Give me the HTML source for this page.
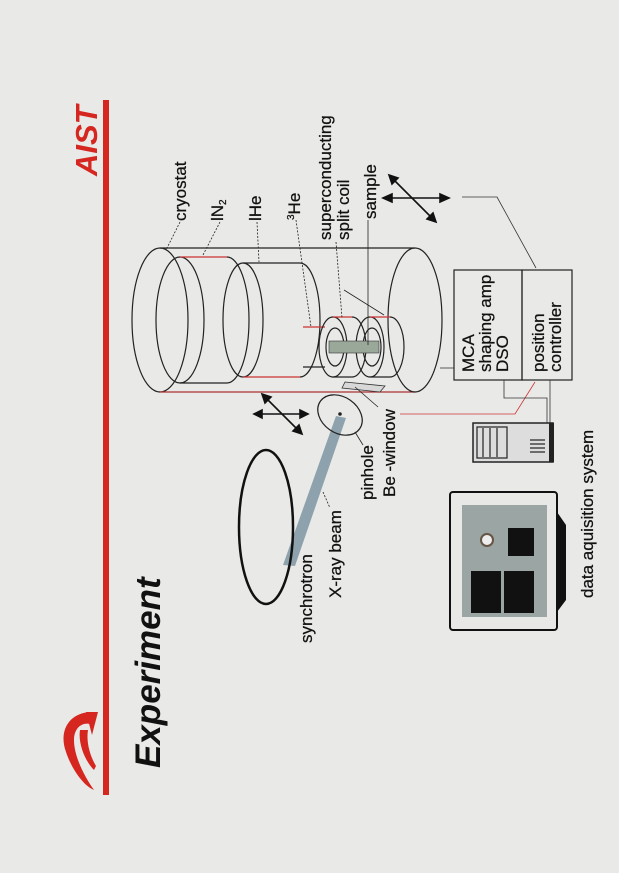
<!DOCTYPE html>
<html><head><meta charset="utf-8"><style>
html,body{margin:0;padding:0;background:#e9eae8;}
svg{display:block;}
text{font-family:"Liberation Sans",Arial,sans-serif;fill:#111;}
</style></head><body>
<svg width="619" height="873" viewBox="0 0 619 873" xmlns="http://www.w3.org/2000/svg">
<rect width="619" height="873" fill="#e9eae8"/>
<rect x="103" y="100" width="6" height="695" fill="#d62620"/>
<text transform="translate(97,176) rotate(-90)" font-size="31" font-weight="bold" font-style="italic" style="fill:#d62620">AIST</text>
<path d="M92,712 C70,712 58,730 66,752 C72,770 84,786 94,790 C84,776 74,756 74,740 C74,728 82,722 90,724 Z" fill="#d62620"/>
<path d="M80,730 C78,742 84,760 94,770 L96,766 C90,756 86,742 88,730 Z" fill="#d62620"/>
<path d="M86,712 L98,712 L92,735 Z" fill="#d62620"/>
<text transform="translate(160,768) rotate(-90)" font-size="35" font-weight="bold" font-style="italic">Experiment</text>

<g fill="none" stroke="#222" stroke-width="1.2">
<ellipse cx="160" cy="320" rx="28" ry="72"/>
<line x1="160" y1="248" x2="415" y2="248"/>
<line x1="160" y1="392" x2="415" y2="392" stroke="#a33"/>
<ellipse cx="415" cy="320" rx="27" ry="72"/>
<ellipse cx="180" cy="320" rx="24" ry="63"/>
<line x1="180" y1="257" x2="227" y2="257" stroke="#c33"/>
<line x1="180" y1="383" x2="227" y2="383"/>
<path d="M227,257 A22,63 0 0 1 227,383"/>
<ellipse cx="243" cy="320" rx="20" ry="57"/>
<line x1="243" y1="263" x2="300" y2="263"/>
<line x1="243" y1="377" x2="300" y2="377" stroke="#c33"/>
<path d="M300,263 A20,57 0 0 1 300,377"/>
<line x1="303" y1="327" x2="325" y2="327" stroke="#c33"/>
<line x1="303" y1="367" x2="325" y2="367"/>
<ellipse cx="333" cy="347" rx="14" ry="30"/>
<ellipse cx="335" cy="347" rx="9" ry="19"/>
<line x1="333" y1="317" x2="352" y2="317" stroke="#c33"/>
<line x1="333" y1="377" x2="352" y2="377"/>
<path d="M352,317 A14,30 0 0 1 352,377"/>
<ellipse cx="370" cy="347" rx="14" ry="30"/>
<ellipse cx="372" cy="347" rx="9" ry="19"/>
<line x1="370" y1="317" x2="390" y2="317" stroke="#c33"/>
<line x1="370" y1="377" x2="390" y2="377"/>
<path d="M390,317 A14,30 0 0 1 390,377"/>
</g>
<rect x="329" y="341" width="50" height="12" fill="#9aa89a" stroke="#333" stroke-width="0.6"/>
<polygon points="345,382 385,386 380,392 342,388" fill="#d8d8d8" stroke="#333" stroke-width="0.8"/>

<g stroke="#222" stroke-width="0.8" fill="none" stroke-dasharray="2,1.5">
<line x1="180" y1="222" x2="166" y2="250"/>
<line x1="220" y1="222" x2="203" y2="255"/>
<line x1="257" y1="222" x2="259" y2="262"/>
<line x1="296" y1="220" x2="311" y2="327"/>
<line x1="336" y1="242" x2="342" y2="318"/>
<line x1="344" y1="290" x2="384" y2="315" stroke-dasharray="none"/>
<line x1="368" y1="220" x2="368" y2="345" stroke-dasharray="none"/>
<line x1="355" y1="387" x2="378" y2="407" stroke-dasharray="none"/>
<line x1="355" y1="432" x2="363" y2="445" stroke-dasharray="none"/>
<line x1="323" y1="492" x2="330" y2="508"/>
</g>

<g stroke="#111" stroke-width="1.6" fill="#111">
<line x1="388" y1="198" x2="444" y2="198"/>
<polygon points="383,198 392,194 392,202"/><polygon points="449,198 440,194 440,202"/>
<line x1="393" y1="179" x2="432" y2="218"/>
<polygon points="389,175 398,178 392,184"/><polygon points="436,222 427,219 433,213"/>
<line x1="258" y1="414" x2="304" y2="414"/>
<polygon points="254,414 262,410 262,418"/><polygon points="308,414 300,410 300,418"/>
<line x1="266" y1="398" x2="298" y2="430"/>
<polygon points="262,394 271,397 265,403"/><polygon points="302,434 293,431 299,425"/>
</g>

<polygon points="283,565 295,566 346,418 336,416" fill="#8ea2ad"/>
<ellipse cx="266" cy="527" rx="27" ry="77" fill="none" stroke="#111" stroke-width="2.5"/>
<ellipse cx="340" cy="415" rx="24" ry="18" transform="rotate(35 340 415)" fill="none" stroke="#222" stroke-width="1.2"/>
<circle cx="340" cy="414" r="1.8" fill="#222"/>

<rect x="454" y="270" width="68" height="110" fill="none" stroke="#222" stroke-width="1.2"/>
<rect x="522" y="270" width="50" height="110" fill="none" stroke="#222" stroke-width="1.2"/>
<g stroke="#333" stroke-width="0.8" fill="none">
<line x1="440" y1="368" x2="454" y2="368"/>
<polyline points="462,197 497,197 536,268"/>
<polyline points="400,414 515,414 535,382" stroke="#c33"/>
<polyline points="504,380 504,398 547,398 547,423"/>
<line x1="550" y1="380" x2="550" y2="423"/>
</g>

<rect x="473" y="423" width="80" height="39" fill="#ddd" stroke="#222" stroke-width="1.5"/>
<rect x="477" y="427" width="30" height="31" fill="none" stroke="#222" stroke-width="1.2"/>
<g stroke="#222" stroke-width="1.2"><line x1="483" y1="428" x2="483" y2="457"/><line x1="490" y1="428" x2="490" y2="457"/><line x1="497" y1="428" x2="497" y2="457"/>
<line x1="530" y1="440" x2="545" y2="440"/><line x1="530" y1="444" x2="545" y2="444"/><line x1="530" y1="448" x2="545" y2="448"/><line x1="530" y1="452" x2="545" y2="452"/></g>
<rect x="549" y="423" width="5" height="39" fill="#222"/>
<rect x="450" y="492" width="107" height="138" rx="3" fill="#e8e8e6" stroke="#111" stroke-width="2"/>
<rect x="462" y="505" width="85" height="112" fill="#9aa5a4"/>
<rect x="508" y="528" width="26" height="28" fill="#111"/>
<rect x="471" y="571" width="30" height="42" fill="#111"/>
<rect x="504" y="571" width="30" height="42" fill="#111"/>
<circle cx="487" cy="540" r="6" fill="#eee" stroke="#654" stroke-width="2"/>
<path d="M557,512 L566,525 L566,600 L557,612 Z" fill="#111"/>

<g font-size="17" style="stroke:#111;stroke-width:0.25">
<text transform="translate(186,221) rotate(-90)">cryostat</text>
<text transform="translate(223,221) rotate(-90)">lN<tspan font-size="10" dy="3">2</tspan></text>
<text transform="translate(261,221) rotate(-90)">lHe</text>
<text transform="translate(300,220) rotate(-90)"><tspan font-size="10" dy="-6">3</tspan><tspan dy="6">He</tspan></text>
<text transform="translate(331,240) rotate(-90)">superconducting</text>
<text transform="translate(349,240) rotate(-90)">split coil</text>
<text transform="translate(376,219) rotate(-90)">sample</text>
<text transform="translate(474,372) rotate(-90)">MCA</text>
<text transform="translate(491,372) rotate(-90)">shaping amp</text>
<text transform="translate(508,372) rotate(-90)">DSO</text>
<text transform="translate(544,372) rotate(-90)">position</text>
<text transform="translate(561,372) rotate(-90)">controller</text>
<text transform="translate(373,500) rotate(-90)">pinhole</text>
<text transform="translate(395,497) rotate(-90)">Be -window</text>
<text transform="translate(341,598) rotate(-90)">X-ray beam</text>
<text transform="translate(312,643) rotate(-90)">synchrotron</text>
<text transform="translate(593,598) rotate(-90)">data aquisition system</text>
</g>
</svg>
</body></html>
